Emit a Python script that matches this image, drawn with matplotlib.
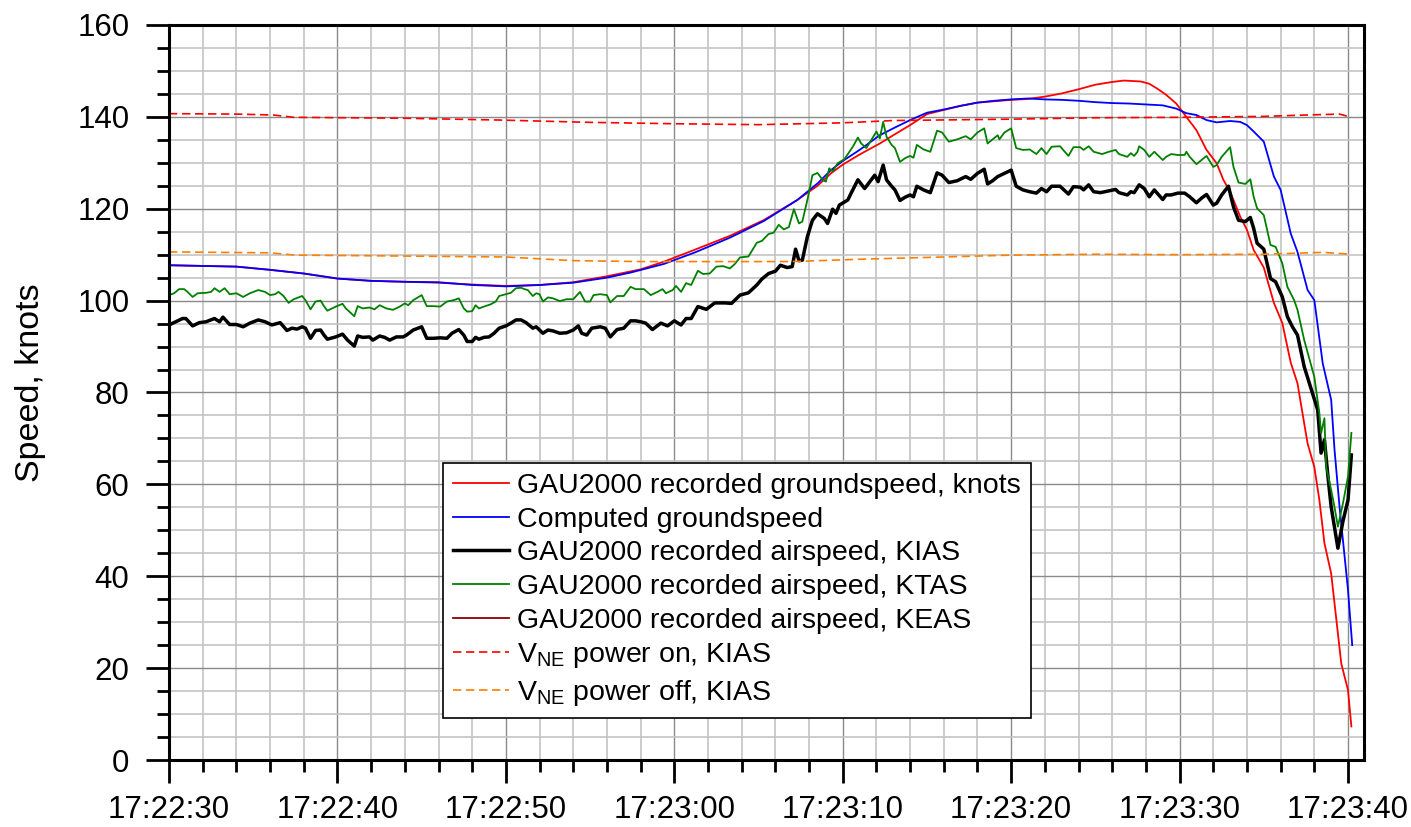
import numpy as np
import matplotlib
matplotlib.use('Agg')
import matplotlib.pyplot as plt
from matplotlib.ticker import MultipleLocator, FuncFormatter

plt.rcParams['font.family'] = ['Liberation Sans', 'DejaVu Sans']
plt.rcParams['mathtext.fontset'] = 'custom'
plt.rcParams['mathtext.rm'] = 'Liberation Sans'

# seconds after 17:22:30
T0 = 17 * 3600 + 22 * 60 + 30

# GAU2000 recorded groundspeed
gs_t = [0, 4, 6, 8, 10, 12, 14, 16, 18, 20,
        22, 24, 26, 28, 29.4, 31.3, 33.3, 35.3, 37.3, 38.5,
        39.3, 40.0, 41.0, 42.2, 43.0, 44.0, 45.0, 46.0, 47.0, 48.0,
        50.0, 51.0, 52.0, 53.0, 54.0, 55.0, 56.0, 56.7, 57.7, 58.2,
        58.65, 59.2, 59.8, 60.4, 61.0, 61.6, 62.2, 62.6, 63.0, 63.6,
        64.0, 64.4, 65.0, 65.6, 66.1, 66.6, 67.0, 67.6, 68.0, 68.3,
        68.6, 69.0, 69.6, 70.0, 70.2]
gs_v = [107.7, 107.4, 106.7, 105.9, 104.8, 104.3, 104.1, 103.9, 103.5, 103.2,
        103.4, 104.0, 105.3, 106.8, 108.5, 111.2, 114.1, 117.5, 121.9, 125.0,
        127.7, 129.6, 131.8, 134.2, 136.0, 138.2, 140.6, 141.5, 142.4, 143.1,
        143.7, 143.9, 144.4, 145.1, 146.0, 147.0, 147.6, 147.9, 147.7, 147.2,
        146.2, 144.8, 142.9, 140.0, 137.1, 132.8, 129.9, 126.3, 123.7, 118.3,
        115.4, 111.0, 107.2, 99.5, 95.1, 86.5, 82.0, 68.9, 63.8, 56.6,
        47.2, 40.6, 21.0, 15.2, 7.3]

# computed groundspeed
cgs_t = [0, 4, 6, 8, 10, 12, 14, 16, 18, 20,
         22, 24, 26, 27.4, 29.4, 31.3, 33.3, 35.3, 37.3, 38.5,
         39.3, 40.0, 41.0, 42.2, 43.0, 44.0, 45.0, 46.0, 47.0, 48.0,
         49.0, 50.0, 51.0, 52.0, 53.0, 54.0, 55.0, 56.0, 57.0, 58.0,
         59.0, 59.8, 60.4, 61.0, 61.6, 62.2, 63.0, 63.6, 64.0, 64.4,
         65.0, 65.6, 66.0, 66.6, 67.0, 67.6, 68.0, 68.5, 69.0, 69.2,
         69.5, 70.0, 70.25]
cgs_v = [107.7, 107.4, 106.7, 105.9, 104.8, 104.3, 104.1, 104.0, 103.4, 103.1,
         103.4, 103.9, 105.0, 106.1, 108.0, 110.6, 113.7, 117.3, 121.9, 125.5,
         128.4, 130.4, 132.8, 136.0, 137.5, 139.3, 140.9, 141.6, 142.4, 143.1,
         143.5, 143.8, 144.0, 143.8, 143.7, 143.5, 143.2, 143.0, 142.9, 142.7,
         142.5, 141.8, 140.8, 140.4, 139.3, 138.8, 139.1, 138.9, 138.2, 136.8,
         134.6, 127.0, 124.1, 114.6, 110.6, 102.3, 100.1, 86.3, 78.4, 67.5,
         55.0, 37.0, 25.0]

# recorded airspeed, KIAS
kias_t = [0.0, 0.4, 0.8, 1.0, 1.4, 1.8, 2.2, 2.7, 3.0, 3.2,
          3.6, 4.0, 4.4, 4.8, 5.3, 5.7, 6.1, 6.6, 7.0, 7.3,
          7.6, 7.9, 8.1, 8.4, 8.7, 9.0, 9.2, 9.4, 9.9, 10.3,
          10.6, 11.0, 11.2, 11.5, 11.9, 12.1, 12.5, 12.8, 13.1, 13.5,
          13.9, 14.1, 14.5, 15.0, 15.3, 15.7, 16.1, 16.5, 16.8, 17.2,
          17.5, 17.7, 18.0, 18.2, 18.4, 18.7, 19.0, 19.3, 19.6, 20.0,
          20.3, 20.6, 20.9, 21.2, 21.6, 21.8, 22.0, 22.2, 22.5, 22.8,
          23.2, 23.6, 24.0, 24.3, 24.5, 24.8, 25.1, 25.6, 25.9, 26.2,
          26.6, 27.0, 27.4, 27.7, 28.0, 28.3, 28.7, 29.2, 29.6, 30.0,
          30.4, 30.7, 31.0, 31.4, 31.9, 32.4, 33.0, 33.4, 33.9, 34.4,
          34.9, 35.2, 35.6, 36.0, 36.3, 36.7, 37.0, 37.2, 37.4, 37.6,
          37.9, 38.2, 38.5, 38.9, 39.1, 39.4, 39.6, 39.8, 40.3, 40.5,
          40.9, 41.3, 41.9, 42.1, 42.4, 42.6, 42.9, 43.1, 43.4, 43.7,
          44.0, 44.2, 44.4, 44.8, 45.2, 45.6, 45.9, 46.3, 46.8, 47.3,
          47.6, 48.0, 48.4, 48.6, 48.9, 49.2, 49.6, 50.0, 50.3, 50.7,
          51.1, 51.5, 51.8, 52.1, 52.4, 52.9, 53.4, 53.7, 54.1, 54.3,
          54.6, 54.9, 55.3, 55.8, 56.2, 56.4, 56.9, 57.1, 57.3, 57.6,
          57.9, 58.2, 58.5, 59.0, 59.2, 59.5, 59.9, 60.3, 60.6, 61.0,
          61.3, 61.6, 62.0, 62.2, 62.5, 62.9, 63.2, 63.5, 63.9, 64.2,
          64.4, 64.6, 65.0, 65.4, 65.7, 66.1, 66.4, 66.7, 67.0, 67.4,
          67.8, 68.2, 68.4, 68.6, 68.8, 69.0, 69.4, 69.7, 70.0, 70.2]
kias_v = [94.7, 95.4, 96.1, 96.1, 94.5, 95.2, 95.4, 96.1, 95.4, 96.4,
          94.8, 94.8, 94.3, 95.1, 95.8, 95.4, 94.7, 95.2, 93.5, 94.0,
          93.8, 94.3, 94.0, 91.8, 93.5, 93.6, 92.5, 91.6, 92.1, 92.7,
          91.4, 90.1, 92.3, 92.0, 92.1, 91.4, 92.3, 92.0, 91.4, 92.1,
          92.1, 92.5, 93.6, 94.3, 91.8, 91.8, 91.9, 91.8, 92.9, 93.7,
          92.5, 91.1, 91.1, 92.0, 91.6, 92.0, 92.1, 92.9, 94.0, 94.5,
          95.1, 95.8, 95.8, 95.2, 94.0, 94.3, 93.6, 92.9, 93.6, 93.4,
          92.9, 93.0, 93.6, 94.5, 92.9, 92.5, 94.0, 94.3, 94.0, 92.1,
          93.7, 94.0, 95.6, 95.6, 95.4, 95.1, 93.7, 95.1, 94.5, 95.6,
          94.7, 96.1, 96.1, 98.7, 98.1, 99.5, 99.5, 99.4, 101.2, 101.7,
          103.4, 104.7, 105.9, 106.4, 107.7, 107.2, 107.4, 111.2, 108.7, 108.8,
          113.9, 117.5, 118.9, 117.9, 116.8, 119.9, 119.0, 120.8, 121.9, 123.4,
          126.3, 124.4, 127.3, 125.9, 129.5, 126.3, 124.9, 124.1, 121.8, 122.5,
          123.0, 122.6, 124.9, 124.1, 123.5, 127.8, 127.3, 125.7, 126.1, 127.0,
          126.4, 127.7, 128.6, 125.4, 126.1, 127.0, 127.7, 128.4, 124.9, 124.1,
          123.7, 123.4, 124.4, 123.7, 124.9, 124.9, 123.2, 124.8, 124.7, 124.1,
          125.2, 123.7, 123.5, 123.9, 124.2, 123.5, 123.0, 123.7, 123.5, 125.2,
          124.4, 122.6, 124.1, 122.0, 123.0, 123.0, 123.4, 123.4, 122.6, 121.3,
          122.3, 123.1, 120.8, 121.2, 123.0, 124.9, 120.4, 117.5, 117.2, 118.1,
          115.7, 112.5, 111.2, 104.8, 104.1, 100.8, 96.5, 94.3, 92.5, 85.6,
          80.9, 76.2, 66.8, 69.7, 62.0, 55.1, 46.1, 52.0, 56.6, 66.4]

# recorded airspeed, KTAS
ktas_t = [0.0, 0.3, 0.6, 0.9, 1.1, 1.4, 1.7, 2.2, 2.5, 2.7,
          3.0, 3.3, 3.6, 4.0, 4.4, 4.8, 5.3, 5.7, 6.0, 6.3,
          6.5, 6.8, 7.1, 7.4, 7.9, 8.1, 8.4, 8.7, 9.0, 9.2,
          9.4, 9.9, 10.3, 10.5, 11.0, 11.2, 11.5, 11.9, 12.2, 12.5,
          12.9, 13.3, 13.7, 14.0, 14.2, 14.5, 15.0, 15.3, 15.7, 16.1,
          16.5, 16.9, 17.2, 17.5, 17.7, 18.0, 18.2, 18.4, 18.7, 19.1,
          19.4, 19.6, 20.0, 20.3, 20.6, 20.9, 21.1, 21.3, 21.6, 21.8,
          22.0, 22.2, 22.5, 22.8, 23.2, 23.6, 24.0, 24.4, 24.7, 25.0,
          25.2, 25.6, 26.0, 26.2, 26.6, 27.0, 27.4, 27.7, 28.2, 28.6,
          29.0, 29.3, 29.5, 29.9, 30.1, 30.4, 30.7, 31.0, 31.4, 31.7,
          32.1, 32.5, 32.9, 33.3, 33.6, 33.9, 34.4, 34.9, 35.2, 35.6,
          35.9, 36.2, 36.5, 36.8, 37.1, 37.4, 37.6, 37.9, 38.2, 38.5,
          38.8, 39.0, 39.2, 39.4, 39.7, 40.1, 40.4, 40.6, 40.9, 41.1,
          41.4, 41.7, 42.0, 42.2, 42.4, 42.6, 42.9, 43.1, 43.4, 43.7,
          44.0, 44.2, 44.4, 44.8, 45.2, 45.6, 45.9, 46.3, 46.8, 47.3,
          47.6, 48.0, 48.4, 48.6, 48.9, 49.2, 49.3, 49.6, 50.0, 50.3,
          50.7, 51.1, 51.5, 51.8, 52.1, 52.4, 52.9, 53.4, 53.7, 54.1,
          54.3, 54.6, 54.9, 55.4, 55.8, 56.2, 56.4, 56.9, 57.1, 57.3,
          57.5, 57.6, 57.9, 58.2, 58.5, 59.0, 59.2, 59.5, 59.9, 60.3,
          60.4, 60.6, 61.0, 61.3, 61.6, 62.0, 62.2, 62.5, 63.0, 63.2,
          63.5, 63.9, 64.2, 64.4, 64.6, 65.0, 65.4, 65.7, 66.1, 66.4,
          66.8, 67.0, 67.4, 68.0, 68.3, 68.4, 68.6, 68.7, 69.0, 69.2,
          69.4, 69.7, 70.0, 70.2]
ktas_v = [101.2, 101.6, 102.5, 102.5, 101.9, 100.8, 101.6, 101.7, 101.9, 102.7,
          101.9, 102.7, 101.4, 101.6, 100.8, 101.6, 102.3, 101.9, 101.2, 101.4,
          101.9, 101.0, 99.5, 100.3, 101.0, 100.1, 98.1, 99.8, 100.0, 98.8,
          97.8, 98.7, 99.3, 98.3, 96.6, 98.8, 98.3, 98.5, 98.1, 99.0,
          98.3, 98.0, 98.7, 99.4, 99.0, 100.1, 101.2, 98.8, 98.8, 98.7,
          99.8, 100.1, 100.5, 98.3, 97.6, 97.7, 99.0, 98.3, 98.7, 99.2,
          99.8, 101.0, 101.4, 101.7, 102.7, 102.8, 102.5, 102.3, 101.0, 101.6,
          101.4, 99.8, 100.7, 100.5, 99.9, 100.3, 100.3, 101.9, 99.8, 99.8,
          101.2, 101.4, 101.2, 99.6, 101.0, 101.0, 103.0, 102.5, 102.5, 101.2,
          101.9, 102.5, 101.6, 102.3, 103.2, 101.9, 103.8, 103.4, 106.5, 105.8,
          105.9, 107.4, 107.5, 107.0, 108.0, 109.4, 109.6, 112.6, 113.0, 114.5,
          114.8, 116.5, 115.5, 116.0, 119.9, 116.8, 117.2, 121.9, 127.3, 127.8,
          126.3, 125.9, 128.8, 128.1, 129.9, 130.8, 132.4, 133.5, 135.5, 134.2,
          133.2, 135.0, 136.8, 135.3, 138.9, 135.7, 133.9, 133.2, 130.2, 131.0,
          131.5, 131.1, 133.9, 132.9, 132.4, 137.0, 136.6, 134.6, 135.1, 135.8,
          135.1, 136.6, 137.5, 134.2, 135.1, 136.0, 135.1, 136.6, 137.5, 133.2,
          132.8, 132.9, 131.9, 133.2, 131.9, 133.5, 133.6, 131.5, 133.4, 133.4,
          132.8, 133.6, 132.4, 131.9, 132.4, 132.8, 131.9, 131.3, 132.1, 131.5,
          132.4, 133.6, 132.8, 131.3, 132.4, 130.6, 131.3, 131.9, 131.7, 131.7,
          132.4, 131.3, 129.7, 130.6, 131.5, 129.1, 129.5, 131.3, 133.4, 129.1,
          125.7, 125.4, 126.4, 122.6, 120.1, 118.6, 112.1, 111.7, 108.1, 103.0,
          100.1, 98.0, 91.4, 83.4, 75.5, 71.1, 74.4, 63.8, 58.8, 55.0,
          50.8, 55.9, 61.7, 71.2]

# KEAS trace lies under the KIAS trace in the picture
keas_t = kias_t
keas_v = kias_v

# VNE power on / power off, KIAS
von_t = [0, 4, 6.2, 7.4, 14, 19.7, 25, 30, 35, 40, 43, 50, 55, 60, 65, 67.5, 69.5, 70.2]
von_v = [140.7, 140.6, 140.4, 139.9, 139.7, 139.3, 138.8, 138.5, 138.3, 138.7,
         139.2, 139.5, 139.8, 139.9, 140.1, 140.4, 140.6, 139.9]
voff_t = [0, 6, 7.5, 14, 20, 22, 24, 28, 37, 41, 46, 50, 55, 60, 65, 68.5, 70.2]
voff_v = [110.6, 110.4, 109.9, 109.7, 109.5, 109.1, 108.7, 108.5, 108.5, 109.0,
          109.5, 109.9, 110.1, 110.0, 110.1, 110.5, 110.1]

fig = plt.figure(figsize=(14.11, 8.27), dpi=100)
ax = fig.add_axes([0.1198, 0.0810, 0.8469, 0.8888])

ax.plot(gs_t, gs_v, color='#ff0000', lw=1.3, zorder=2.0,
        label='GAU2000 recorded groundspeed, knots')
ax.plot(cgs_t, cgs_v, color='#0000ff', lw=1.3, zorder=2.0,
        label='Computed groundspeed')
ax.plot(kias_t, kias_v, color='black', lw=2.5, zorder=2.2,
        label='GAU2000 recorded airspeed, KIAS')
ax.plot(ktas_t, ktas_v, color='#008000', lw=1.3, zorder=2.3,
        label='GAU2000 recorded airspeed, KTAS')
ax.plot(keas_t, keas_v, color='#8b0000', lw=1.3, zorder=2.1,
        label='GAU2000 recorded airspeed, KEAS')
ax.plot(von_t, von_v, color='#ff0000', lw=1.2, dashes=(5, 2.8), zorder=2.4,
        label=r'V$_\mathregular{NE}$ power on, KIAS')
ax.plot(voff_t, voff_v, color='#ff8000', lw=1.2, dashes=(5, 2.8), zorder=2.4,
        label=r'V$_\mathregular{NE}$ power off, KIAS')

ax.set_xlim(0, 70.95)
ax.set_ylim(0, 160)
ax.xaxis.set_major_locator(MultipleLocator(10))
ax.xaxis.set_minor_locator(MultipleLocator(2))
ax.yaxis.set_major_locator(MultipleLocator(20))
ax.yaxis.set_minor_locator(MultipleLocator(5))


def hms(x, pos):
    s = int(round(x)) + T0
    return '%d:%02d:%02d' % (s // 3600, (s % 3600) // 60, s % 60)


ax.xaxis.set_major_formatter(FuncFormatter(hms))

ax.set_axisbelow(True)
ax.grid(which='minor', color='#c4c4c4', lw=1.2)
ax.grid(which='major', color='#8a8a8a', lw=1.0)

for sp in ax.spines.values():
    sp.set_linewidth(2.2)
ax.tick_params(which='major', direction='out', length=16.5, width=2.0,
               labelsize=22.5, colors='black')
ax.tick_params(which='minor', direction='out', length=8.5, width=2.0)
ax.tick_params(axis='x', which='major', pad=9)
ax.tick_params(axis='y', which='major', pad=12)

ax.set_ylabel('Speed, knots', fontsize=24.5)
ax.yaxis.set_label_coords(-0.103, 0.514)

leg = ax.legend(loc='upper left', bbox_to_anchor=(0.2293, 0.404), fontsize=20.5,
                frameon=True, fancybox=False, edgecolor='black', framealpha=1,
                borderaxespad=0, handlelength=1.95, handletextpad=0.3,
                labelspacing=0.27, borderpad=0.35)
leg.get_frame().set_linewidth(1.2)
leg.set_zorder(5)

fig.savefig('out.png', dpi=100)
